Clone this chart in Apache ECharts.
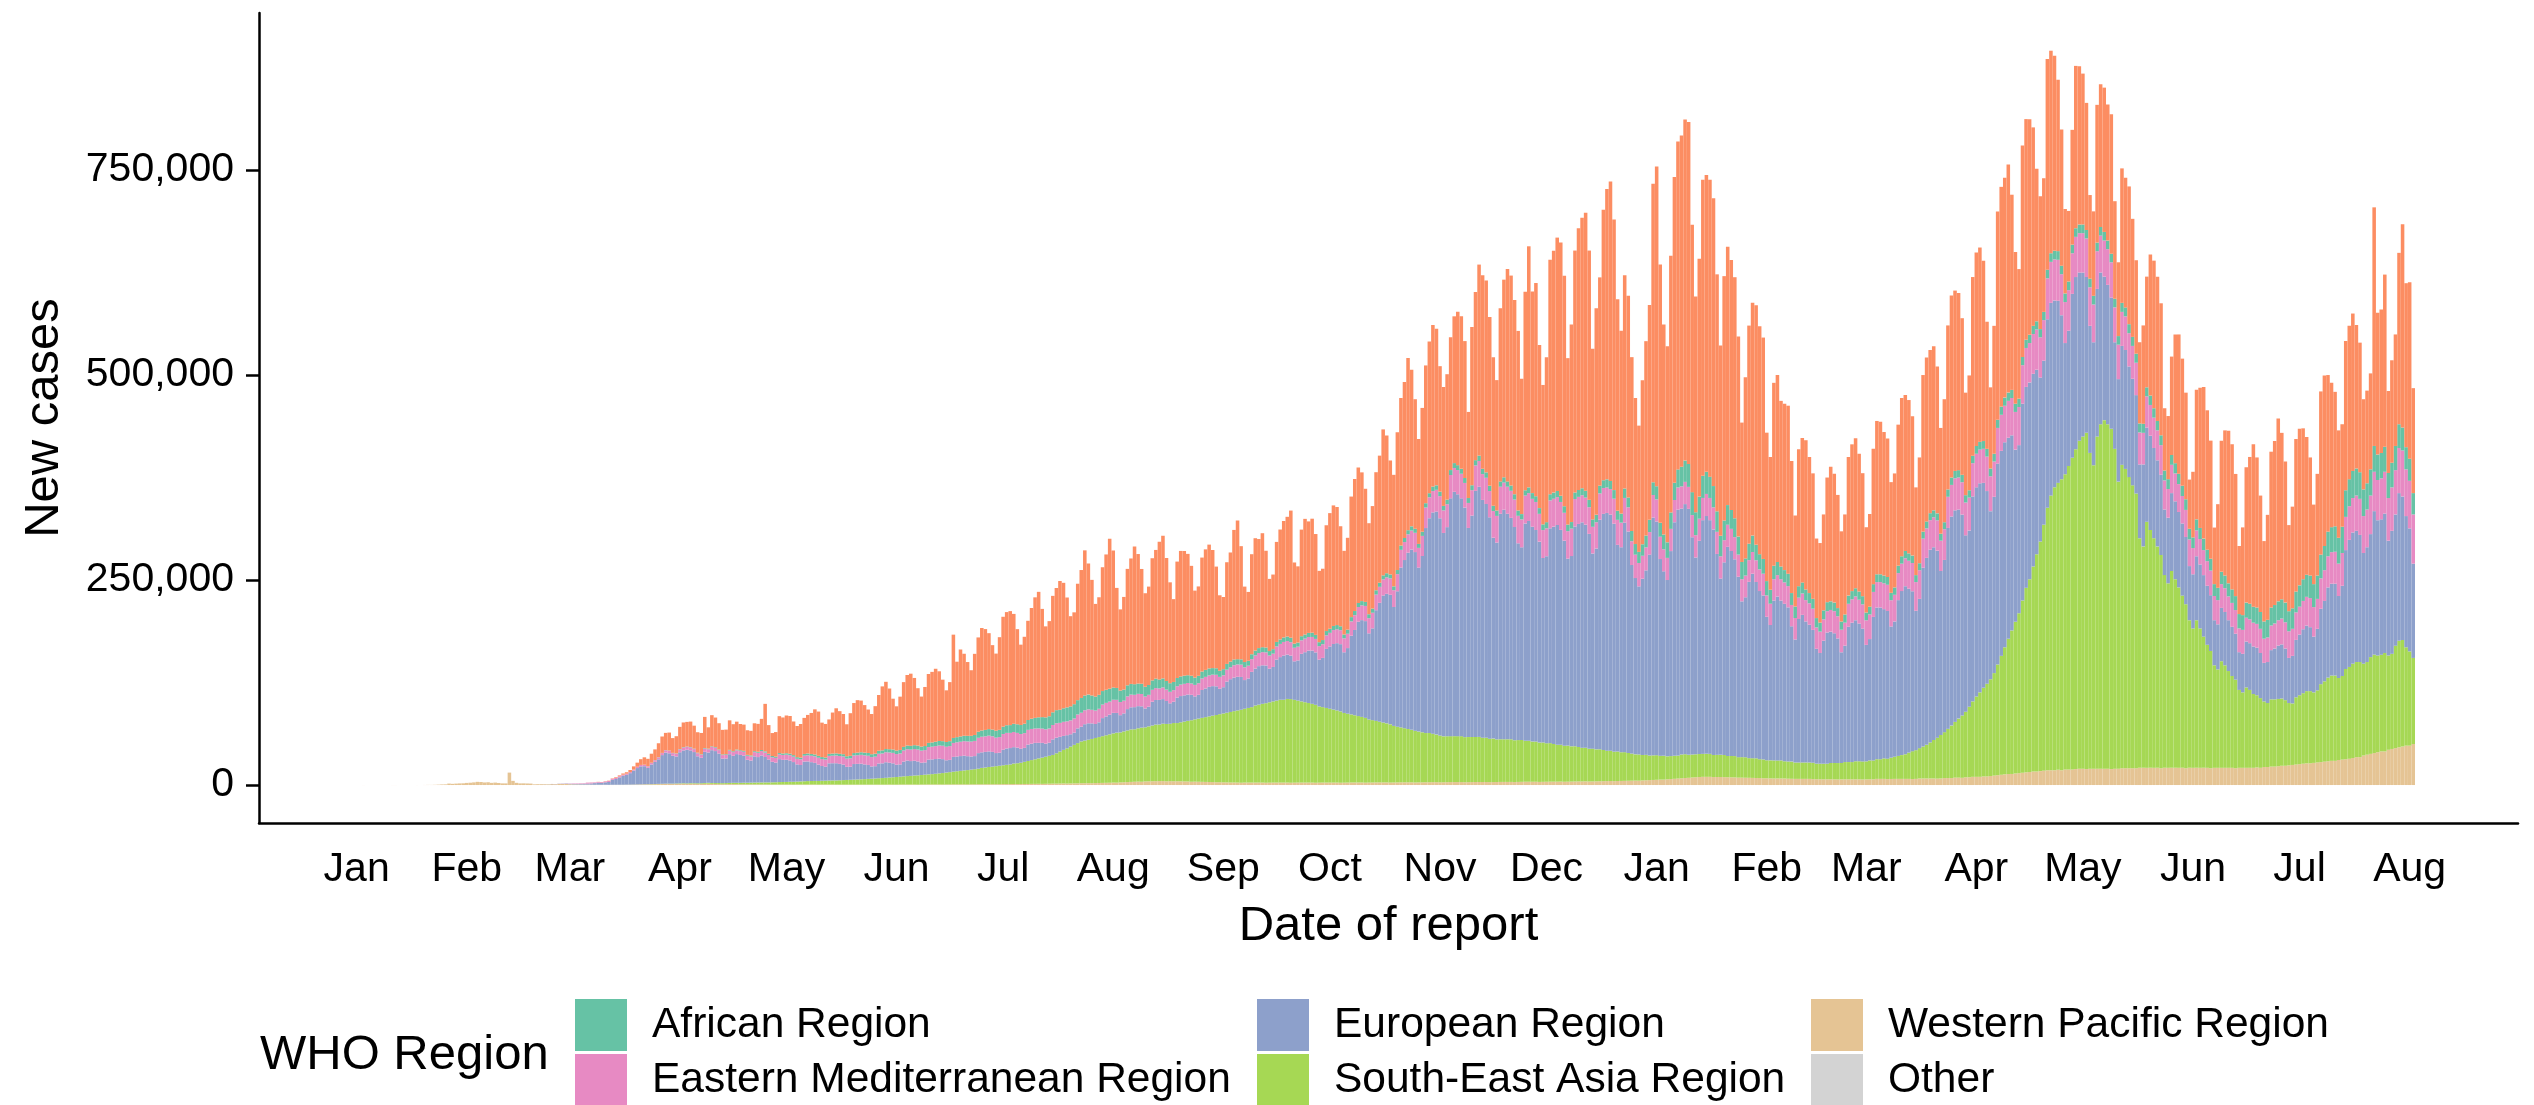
<!DOCTYPE html>
<html>
<head>
<meta charset="UTF-8">
<title>New cases by WHO Region</title>
<script src="https://cdn.jsdelivr.net/npm/echarts@6/dist/echarts.min.js"></script>
<style>
  html, body { margin: 0; padding: 0; background: #fff; }
  #chart { width: 2534px; height: 1105px; }
</style>
</head>
<body>
<div id="chart"></div>
<script>
// daily new cases by date of report, in thousands
// one row = one week, Fri..Thu, first day 2020-01-03, last day 2021-08-02
var startDate = '2020-01-03';

var americas = [
  0,0,0,0,0,0,0,
  0,0,0,0,0,0,0,
  0,0,0,0,0,0,0,
  0,0,0,0,0,0,0,
  0,0,0,0,0,0,0,
  0,0,0,0,0,0,0,
  0,0,0,0,0,0,0,
  0,0,0,0,0,0,0.01,
  0.01,0.01,0.02,0.02,0.03,0.04,0.05,
  0.05,0.1,0.1,0.2,0.2,0.3,0.4,
  0.5,0.8,1,1.5,1.8,2.5,4,
  5,7,9,9,11,13,17,
  20,21,22,18,21,27,30,
  30,31,28,25,26,38,26,
  38,36,32,30,30,36,33,
  34,32,32,30,30,34,34,
  38,58,35,28,30,45,44,
  46,46,41,38,41,44,47,
  50,55,54,42,41,42,50,
  55,52,49,39,52,61,64,
  63,58,53,49,58,68,78,
  82,74,62,54,65,79,86,
  88,82,70,61,72,84,86,
  89,85,75,63,72,126,92,
  106,100,90,80,99,115,125,
  123,117,103,94,113,134,138,
  139,134,116,98,106,121,135,
  147,153,132,111,116,142,149,
  157,153,134,110,112,142,156,
  177,160,141,113,119,151,165,
  183,167,122,99,113,142,153,
  168,158,140,114,120,149,157,
  168,174,150,123,101,142,153,
  152,148,134,106,109,139,147,
  151,144,124,92,88,124,133,
  158,169,138,92,84,122,137,
  133,139,118,88,91,122,134,
  142,146,155,99,93,130,141,
  136,139,123,87,87,129,141,
  147,144,122,102,112,147,161,
  165,157,138,111,125,144,155,
  178,168,139,136,168,180,190,
  210,191,158,128,151,168,185,
  197,191,153,145,153,162,179,
  187,186,167,105,193,205,233,
  236,234,206,181,159,211,241,
  259,256,237,219,165,242,294,
  246,260,199,170,201,286,295,
  309,309,281,203,241,295,319,
  330,339,304,208,252,254,330,
  354,365,330,258,223,260,246,
  212,178,154,200,237,262,364,
  390,315,256,239,313,373,400,
  404,416,417,326,263,290,361,
  362,362,351,289,232,298,315,
  305,294,244,170,221,266,284,
  292,278,270,181,162,223,228,
  202,203,205,161,111,167,176,
  182,166,153,97,97,117,152,
  164,157,138,110,122,169,179,
  183,168,150,104,113,165,187,
  186,175,169,135,139,172,193,
  190,187,170,107,129,191,200,
  199,200,179,129,150,200,222,
  220,216,191,125,140,218,236,
  237,220,155,99,156,254,268,
  268,278,238,185,158,258,269,
  263,242,186,162,163,257,247,
  238,209,166,103,86,140,198,
  193,184,155,102,103,168,174,
  176,166,170,119,90,164,158,
  168,144,114,99,120,135,172,
  180,176,161,76,77,120,157,
  170,155,130,60,80,158,171,
  185,170,144,69,102,160,177,
  186,177,149,83,107,165,179,
  198,183,142,98,128,190,200,
  223,203,172,105,124,186,191,
  184,168,144,97,124,199,208,
  191,176,164,131,125,182,187,
  192,175,158,110,113,117,291,
  173,175,210,100,125,136,209,
  248,200,215,128
];

var european = [
  0,0,0,0,0,0,0,
  0,0,0,0,0,0,0,
  0,0,0,0,0,0,0,
  0,0,0,0,0,0,0,
  0,0,0,0,0,0,0,
  0,0,0,0,0,0,0,
  0,0,0,0,0,0,0,
  0,0.02,0.08,0.1,0.2,0.15,0.2,
  0.3,0.4,0.5,0.6,0.6,0.8,1,
  1.2,1.5,2,2.5,2.2,3,3.5,
  6,7,9,11,12,14,17,
  20,22,22,20,24,27,30,
  35,38,37,34,33,38,40,
  41,40,38,33,31,38,37,
  40,39,36,30,30,35,33,
  35,34,33,28,27,32,31,
  33,31,28,25,24,28,27,
  27,26,24,21,20,24,24,
  23,22,20,18,17,21,21,
  21,20,19,16,16,19,19,
  19,18,17,15,15,18,18,
  19,18,17,15,15,18,19,
  18,18,17,15,15,18,18,
  18,18,17,15,15,18,18,
  18,18,17,16,16,19,19,
  19,19,18,16,16,19,20,
  20,20,19,17,17,20,20,
  20,19,18,16,16,19,19,
  18,17,16,15,15,18,18,
  20,20,19,17,18,22,23,
  24,25,24,21,22,26,27,
  27,27,26,23,24,29,30,
  30,30,28,25,26,31,32,
  32,32,31,28,29,34,35,
  36,36,35,31,32,38,40,
  41,41,40,35,36,43,45,
  47,47,46,41,42,50,52,
  54,54,53,47,49,58,61,
  64,65,64,57,60,72,76,
  80,82,82,74,80,96,104,
  115,118,118,105,112,135,145,
  155,158,158,145,165,195,205,
  215,220,218,200,215,250,262,
  270,272,265,248,255,290,298,
  295,290,280,255,270,300,305,
  290,285,270,245,240,275,280,
  275,270,260,240,235,265,268,
  262,258,245,225,228,262,265,
  268,262,250,228,232,268,272,
  275,272,262,238,245,280,288,
  290,288,278,252,250,280,270,
  230,215,205,215,225,245,290,
  285,240,225,215,250,285,300,
  300,305,300,265,240,260,285,
  290,285,275,245,215,235,255,
  250,240,220,190,195,215,225,
  215,205,200,175,165,195,200,
  195,192,188,165,150,175,180,
  172,168,162,140,135,150,160,
  160,158,152,135,142,165,170,
  172,168,162,142,148,175,185,
  185,182,180,160,165,190,200,
  205,200,195,170,182,218,228,
  235,235,228,200,210,245,255,
  258,255,245,215,215,250,255,
  255,250,235,205,215,245,250,
  250,245,238,210,205,240,245,
  240,235,225,200,200,230,235,
  228,222,200,160,165,200,210,
  205,200,190,155,150,180,185,
  175,170,160,130,125,145,145,
  135,130,120,90,100,115,115,
  110,105,98,80,80,95,95,
  92,88,82,66,66,78,78,
  75,72,68,55,55,65,65,
  62,60,56,46,47,56,57,
  58,58,55,47,50,60,62,
  65,66,63,55,58,70,74,
  78,80,78,68,75,92,98,
  110,112,112,100,110,145,155,
  160,160,155,135,140,150,175,
  165,165,170,140,150,160,180,
  175,160,150,115
];

var southEastAsia = [
  0,0,0,0,0,0,0,
  0,0,0,0,0,0,0,
  0,0,0,0,0,0,0,
  0,0,0,0,0,0,0,
  0,0,0,0,0,0,0,
  0,0,0,0,0,0,0,
  0,0,0,0,0,0,0,
  0,0,0,0,0,0,0,
  0,0,0,0,0,0.01,0.01,
  0.01,0.01,0.02,0.02,0.02,0.03,0.03,
  0.02,0.04,0.05,0.06,0.08,0.1,0.1,
  0.1,0.1,0.15,0.2,0.2,0.25,0.3,
  0.3,0.35,0.4,0.5,0.55,0.6,0.7,
  0.7,0.8,0.8,0.9,0.9,1,1.1,
  1.1,1.2,1.3,1.3,1.4,1.5,1.6,
  1.7,1.8,1.9,2,2.1,2.2,2.3,
  2.4,2.5,2.6,2.7,2.8,3,3.1,
  3.2,3.4,3.5,3.6,3.8,4,4.2,
  4.3,4.4,4.5,4.6,4.7,4.9,5,
  5.1,5.3,5.5,5.7,5.9,6.1,6.3,
  6.5,6.7,7,7.2,7.5,7.8,8,
  8.3,8.6,9,9.3,9.6,10,10.3,
  10.6,11,11.3,11.6,12,12.3,12.6,
  13,13.5,14,14.5,15,15.5,16,
  16.5,17,17.5,18,18.5,19,20,
  20.5,21,21.5,22,22.5,23,23.5,
  24,25,25.5,26,27,28,29,
  30,31,32,33,34,35,37,
  39,41,43,45,47,49,51,
  52,53,54,55,56,57,58,
  59,60,61,61,62,63,64,
  64,65,66,66,67,68,69,
  69,70,70,70,71,71,72,
  73,74,75,76,77,78,79,
  80,81,82,83,84,85,86,
  87,88,89,90,91,92,94,
  95,96,97,98,99,100,101,
  101,102,102,101,100,99,98,
  97,96,95,93,92,91,90,
  89,88,87,85,84,83,82,
  81,80,79,77,76,75,74,
  73,72,71,69,68,67,66,
  65,64,63,62,61,60,60,
  59,58,57,56,56,56,56,
  56,56,55,55,55,55,55,
  54,54,53,53,52,52,52,
  52,52,51,51,51,50,50,
  49,49,48,48,47,47,46,
  45,45,44,44,43,43,42,
  41,41,40,40,39,39,38,
  37,37,36,36,35,35,34,
  33,32,32,31,31,30,30,
  30,29,29,28,28,28,28,
  29,29,28,28,28,28,28,
  28,28,27,27,27,27,26,
  26,26,25,25,25,24,24,
  24,23,23,22,22,22,22,
  22,21,21,21,20,20,20,
  20,20,20,19,19,19,19,
  20,20,20,20,21,21,21,
  22,22,22,22,23,23,24,
  24,25,25,26,27,28,29,
  30,32,34,35,37,39,41,
  44,47,50,53,56,60,64,
  68,72,76,80,86,92,98,
  103,108,113,118,125,135,145,
  155,165,175,185,195,210,225,
  235,250,265,280,300,320,335,
  345,350,355,360,370,380,390,
  400,405,410,385,370,405,420,
  425,420,415,390,350,370,365,
  355,345,335,280,270,300,290,
  280,270,260,235,225,240,230,
  220,210,200,180,170,180,170,
  160,150,143,125,120,130,125,
  118,112,108,95,92,98,95,
  90,88,85,80,78,82,82,
  82,82,80,76,75,82,84,
  86,88,88,86,88,95,98,
  102,104,104,100,102,110,112,
  115,116,116,112,113,118,120,
  118,118,120,115,116,125,130,
  130,120,115,105
];

var easternMediterranean = [
  0,0,0,0,0,0,0,
  0,0,0,0,0,0,0,
  0,0,0,0,0,0,0,
  0,0,0,0,0,0,0,
  0,0,0,0,0,0,0,
  0,0,0,0,0,0,0,
  0,0,0,0,0,0,0,
  0,0.01,0.02,0.03,0.04,0.05,0.1,
  0.15,0.2,0.3,0.5,0.6,0.6,0.6,
  1.2,1.1,0.8,0.9,0.9,1,1.2,
  1.3,1.4,1.4,1.2,1.3,1.3,1.1,
  1.5,1.6,1.7,1.8,1.9,2,2.3,
  2.5,2.7,3,3.2,3.3,3.5,3.6,
  3.5,3.6,3.6,3.7,3.7,3.9,4,
  4,4.1,4.2,4.2,4.3,4.4,4.5,
  4.6,4.7,4.8,4.9,5,5.1,5.2,
  5.3,5.4,5.5,5.6,5.7,5.8,6,
  6.2,6.4,6.6,6.8,7,7.2,7.5,
  7.8,8,8.3,8.5,8.7,9,9.2,
  9.4,9.6,9.8,10,10.2,10.4,10.6,
  10.8,11,11.2,11.4,11.6,11.8,12,
  12.2,12.5,12.7,13,13.3,13.5,13.8,
  14,14.3,14.5,14.8,15,15.3,15.5,
  15.8,16,16.3,16.5,16.8,17,17.3,
  17.5,17.7,18,18.2,18.5,18.7,19,
  19,19.2,19,18.8,19,19.1,19,
  18.5,18.5,18,18,18,18,18,
  17.5,17.6,17.4,17.5,17.3,17.5,17.6,
  17,17.2,16.9,17,17.1,16.9,17,
  17,17,16.5,16.5,16.5,16.5,16.5,
  16,16,16,16,15.5,15.5,15.5,
  15,15,15,14.5,14.5,14.5,14.5,
  14,14.2,13.9,14,14.1,13.9,14,
  14,14.1,13.8,14,14.2,14,14.1,
  14,14,14,14.5,14.5,14.5,14.5,
  15,15,15,15.5,15.5,15.5,16,
  16,16.1,15.9,16,16.2,16,16.1,
  16.5,16.6,16.4,16.5,16.7,16.5,16.6,
  16.5,16.6,16.4,16.5,16.7,16.5,16.6,
  17,17,17,17,17.5,17.5,18,
  18,18,18.5,18.5,19,19,19.5,
  19.5,20,20,20.5,21,21.5,22,
  22.5,23,23.5,24,24.5,25,25.5,
  26,26.5,27,27.5,28,28.5,29,
  29.5,30,30,30.5,31,31,31.5,
  31.5,32,32,32.5,32.5,33,33,
  33,33,33.5,33.5,34,34,34,
  34,34.2,33.9,34,34.1,34,34,
  34,34,34,33.5,33.5,33.5,33,
  33,33,32.5,32.5,32,32,31.5,
  31,31,30.5,30.5,30,30,29.5,
  29,28.5,28.5,28,28,27.5,27.5,
  27,27.2,26.9,27,27.1,27,27,
  27,27.1,26.8,27,27.2,27,27.1,
  27,27.1,26.9,27,27.1,27,26.9,
  27,27,27,27,26.5,26.5,26.5,
  26.5,26.5,26.5,26,26,26,26,
  26,26.1,25.9,26,26.2,26,26.1,
  26,26.1,25.9,26,26.1,26,26,
  26.5,27,27,27.5,28,28,28.5,
  29,29,29.5,30,30,30.5,31,
  31,31.5,32,32,32.5,33,33.5,
  34,34,34.5,35,35,35.5,36,
  36,36.5,37,37,37.5,38,38.5,
  39,39,39.5,40,40,40.5,41,
  41,41.5,42,42.5,43,43.5,44,
  44.5,45,45.5,46,46.5,47,47.5,
  48,48.5,49,49,49.5,50,50,
  50,50,50,50,49.5,49.5,49,
  48,48,47,47,46,46,45,
  44,43.5,43,42.5,42,41.5,41,
  40.5,40,39.5,39,38.5,38,37.5,
  37,36.5,36,35.5,35,34.5,34,
  34,33.5,33,32.5,32,31.5,31,
  30.5,30,30,29.5,29.5,29,29,
  29,29.1,28.9,29,29.2,29,29.1,
  29,29,29.5,29.5,30,30,30.5,
  31,31.5,32,32.5,33,33.5,34,
  34.5,35,35.5,36,36.5,37,37.5,
  38,38.5,39,39.5,40,40.5,41,
  42,43,44,45,46,47,48,
  49,50,51,52,53,54,55,
  56,57,58,60
];

var african = [
  0,0,0,0,0,0,0,
  0,0,0,0,0,0,0,
  0,0,0,0,0,0,0,
  0,0,0,0,0,0,0,
  0,0,0,0,0,0,0,
  0,0,0,0,0,0,0,
  0,0,0,0,0,0,0,
  0,0,0,0,0,0,0,
  0,0,0,0,0,0,0,
  0,0,0,0.01,0.01,0.01,0.01,
  0.02,0.03,0.03,0.04,0.05,0.06,0.08,
  0.1,0.12,0.15,0.18,0.2,0.22,0.25,
  0.2,0.25,0.3,0.35,0.4,0.45,0.5,
  0.5,0.5,0.6,0.6,0.6,0.7,0.7,
  0.7,0.8,0.8,0.8,0.9,0.9,1,
  1,1,1.1,1.1,1.2,1.2,1.3,
  1.3,1.4,1.4,1.5,1.5,1.6,1.7,
  1.8,1.8,1.9,2,2,2.1,2.2,
  2.2,2.3,2.3,2.4,2.5,2.5,2.6,
  2.6,2.7,2.8,2.9,3,3,3.1,
  3.2,3.3,3.4,3.5,3.6,3.7,3.8,
  3.9,4,4.1,4.2,4.3,4.4,4.5,
  4.6,4.7,4.8,4.9,5,5.1,5.2,
  5.3,5.5,5.6,5.8,6,6.1,6.3,
  6.5,6.6,6.8,7,7.2,7.4,7.6,
  7.8,8,8.2,8.5,8.8,9,9.3,
  9.5,10,10.5,11,11.5,12,12.5,
  13,13.5,14,14.5,15,15.5,16,
  16,16.5,17,17,17.5,17.5,18,
  18,18,17.5,17,17,16.5,16,
  15.5,15,14.5,14,13.5,13.5,13,
  13,12.5,12.5,12,12,11.5,11.5,
  11,11,10.5,10.5,10,10,10,
  10,9.5,9.5,9,9,8.5,8.5,
  8.5,8,8,7.5,7.5,7,7,
  7,6.5,6.5,6.5,6,6,6,
  6,6,6,5.5,5.5,5.5,5.5,
  5.5,5.5,5.5,5,5,5,5,
  5,5.2,4.9,4.8,5.1,5.3,5,
  5,5.1,4.8,4.7,5,5.2,5.1,
  5,5.2,4.9,4.8,5.1,5.3,5,
  5,5.1,4.8,4.7,5,5.2,5.1,
  5,5.2,4.9,4.8,5.1,5.3,5,
  5.5,5.5,5.5,5.5,5.5,6,6,
  6,6,6,6,6,6.5,6.5,
  6.5,6.6,6.4,6.5,6.6,6.5,6.5,
  6.5,6.5,6.5,6.5,6.5,6.5,7,
  7,7,7,7,7.5,7.5,7.5,
  7.5,7.5,8,8,8,8,8.5,
  8.5,8.5,9,9,9,9.5,9.5,
  10,10,10.5,11,11,11.5,12,
  12.5,13,13.5,14,14.5,15,15.5,
  16,17,18,19,20,21,22,
  24,26,28,28,28,27,27,
  27,26,26,25,25,24,24,
  23,23,22,21,21,20,20,
  19,18.5,18,17.5,17,16.5,16,
  15.5,15,15,14.5,14,14,13.5,
  13,12.5,12,11.5,11,11,11,
  10.5,10.5,10,10,10,10,10,
  10,10,10,9.5,9.5,9.5,9.5,
  9.5,9.5,9.5,9,9,9,9,
  9,9,9,8.5,8.5,8.5,8.5,
  8.5,8.5,8.5,8.5,8.5,9,9,
  9,9,9,9,9,9,9.5,
  9.5,9.5,9.5,9.5,9.5,10,10,
  10,10.1,9.9,10,10.2,10,10.1,
  10,10,10,10,10,10.5,10.5,
  10.5,10.6,10.4,10.5,10.6,10.5,10.5,
  10.5,10.6,10.4,10.5,10.6,10.5,10.5,
  10.5,10.5,10.5,10.5,10.5,11,11,
  11,11,11,11,11,11,11.5,
  11.5,11.5,12,12,12,12,12.5,
  12.5,12.5,13,13,13,13.5,13.5,
  14,14,14.5,14.5,15,15,15.5,
  16,16.5,17,17.5,18,18.5,19,
  19.5,20,20.5,21,21.5,22,22.5,
  23,23.5,24,24.5,25,25.5,26,
  26.5,27,27.5,28,28.5,29,29.5,
  30,30.5,31,31.5,32,32.5,33,
  33,33,32.5,32.5,32,32,31.5,
  31,31,30.5,30.5,30,29.5,29,
  28,27,27,26
];

var westernPacific = [
  0.04,0,0.01,0.01,0,0,0,
  0,0.04,0.05,0.01,0.01,0,0.01,
  0.02,0.04,0.02,0.08,0.15,0.13,0.26,
  0.45,0.69,0.77,1.77,1.46,1.74,1.98,
  2.1,2.59,2.83,3.24,3.89,3.7,3.15,
  3.39,2.66,2.98,2.49,2.02,2,15.15,
  5.09,2.64,2.01,2.05,1.89,1.75,0.82,
  1,1,0.9,0.8,1.1,0.9,1.4,
  1.3,1.4,1,0.8,0.7,0.6,0.5,
  0.5,0.4,0.3,0.3,0.3,0.3,0.2,
  0.3,0.3,0.3,0.3,0.4,0.4,0.5,
  0.6,0.7,0.8,0.8,0.9,1,1.1,
  1.2,1.3,1.3,1.2,1.3,1.4,1.5,
  1.3,1.5,1.4,1.2,1.3,1.5,1.6,
  1.4,1.2,1.1,1,1,1.1,1.1,
  1,0.9,0.9,0.8,0.8,0.8,0.8,
  0.7,0.7,0.6,0.6,0.6,0.6,0.6,
  0.6,0.6,0.5,0.6,0.6,0.6,0.6,
  0.6,0.6,0.5,0.6,0.6,0.6,0.6,
  0.5,0.5,0.5,0.5,0.5,0.5,0.5,
  0.5,0.5,0.5,0.5,0.5,0.5,0.5,
  0.5,0.6,0.5,0.5,0.6,0.6,0.6,
  0.6,0.6,0.5,0.6,0.6,0.7,0.7,
  0.7,0.7,0.6,0.7,0.7,0.8,0.8,
  0.8,0.8,0.7,0.8,0.8,0.9,0.9,
  0.9,1,0.9,1,1,1.1,1.1,
  1.1,1.2,1.1,1.2,1.3,1.3,1.4,
  1.4,1.5,1.4,1.5,1.6,1.7,1.7,
  1.8,1.9,1.8,1.9,2,2.1,2.2,
  2.2,2.3,2.2,2.4,2.5,2.6,2.7,
  2.8,3,2.9,3.2,3.4,3.6,3.8,
  4,4.2,4,4.4,4.5,4.6,4.7,
  4.8,4.8,4.5,4.7,4.6,4.6,4.5,
  4.4,4.3,4,4.1,4,3.9,3.8,
  3.7,3.6,3.4,3.4,3.3,3.2,3.1,
  3.1,3,2.8,3,3,3,3,
  3,3,2.8,2.9,3,3,3,
  3,3,2.8,2.9,3,3,3,
  3,3,2.8,2.9,3,3,3,
  3,3,2.8,2.9,3,3.1,3.1,
  3.1,3.1,2.9,3,3.1,3.2,3.2,
  3.2,3.2,3,3.1,3.2,3.3,3.3,
  3.3,3.3,3.1,3.2,3.3,3.4,3.4,
  3.5,3.5,3.3,3.4,3.5,3.6,3.6,
  3.6,3.6,3.4,3.5,3.6,3.7,3.7,
  3.7,3.7,3.5,3.6,3.7,3.8,3.8,
  3.8,3.8,3.6,3.8,3.9,4,4,
  4,4,3.8,3.9,4,4.1,4.1,
  4.1,4.2,4,4.1,4.2,4.3,4.4,
  4.4,4.5,4.3,4.4,4.5,4.6,4.7,
  4.8,4.9,4.7,4.9,5,5.1,5.2,
  5.3,5.4,5.3,5.6,5.8,6,6.2,
  6.4,6.6,6.6,7,7.3,7.6,7.9,
  8.2,8.6,8.8,9.2,9.5,9.8,10,
  10,10,9.7,9.8,9.8,9.6,9.5,
  9.4,9.3,9,9,8.9,8.8,8.7,
  8.6,8.5,8.2,8.2,8.1,8,8,
  8,8,7.7,7.6,7.5,7.5,7.5,
  7.5,7.5,7.2,7.1,7,7,7,
  7,7,6.8,6.9,7,7,7,
  7,7,6.8,6.9,7,7,7.5,
  7.5,7.5,7.2,7.4,7.5,7.5,7.5,
  7.5,7.5,7.3,7.5,8,8,8,
  8,8,7.8,8,8.5,8.5,8.5,
  9,9,8.8,9.5,9.5,10,10,
  10,10.5,10.5,11,11.5,12,12.5,
  13,13.5,13.5,14,14.5,15,15.5,
  16,16.5,16.5,17,17.5,18,18,
  18,18.5,18,19,19,19,19.5,
  20,20,19.5,20,20,20,20,
  20,20,19.5,20,20,20.5,20.5,
  20.5,20.5,20.5,21,21,21,21,
  21,21,20.5,21,21,21,21,
  21,21,20.5,21,21,21,21,
  21,21,20.5,21,21,21,21,
  21,21,20.5,21,21,21,21,
  21,21.5,21,22,22,22.5,22.5,
  23,23.5,23.5,24,24.5,25,25.5,
  26,26.5,26.5,27,27.5,28,28.5,
  29,29.5,29.5,30.5,31,31.5,32,
  33,34,34,36,37,38,39,
  40,41,41,43,44,45,46,
  47,48,48,50
];

// international conveyances, only the days with reports
var otherByDate = {
  '2020-02-05': 0.01, '2020-02-06': 0.01, '2020-02-07': 0.041, '2020-02-08': 0.003,
  '2020-02-09': 0.006, '2020-02-10': 0.065, '2020-02-12': 0.039, '2020-02-13': 0.044,
  '2020-02-15': 0.067, '2020-02-16': 0.07, '2020-02-17': 0.099, '2020-02-18': 0.088,
  '2020-02-19': 0.079, '2020-02-20': 0.013, '2020-02-22': 0.057, '2020-02-24': 0.057,
  '2020-03-01': 0.014
};

var monthNames = ['Jan','Feb','Mar','Apr','May','Jun','Jul','Aug','Sep','Oct','Nov','Dec'];
var yTicks = [0, 250, 500, 750];
var padDays = 29; // empty days on each side, like ggplot's axis expansion

var font = 'Liberation Sans, Arial, Helvetica, sans-serif';
var DAY = 86400000;
var start = Date.parse(startDate + 'T00:00:00Z');
var nDays = americas.length;

var dates = [];
for (var k = -padDays; k < nDays + padDays; k++) {
  dates.push(new Date(start + k * DAY).toISOString().slice(0, 10));
}

var other = [];
for (var j = 0; j < nDays; j++) {
  other.push(otherByDate[dates[j + padDays]] || 0);
}

function pad(values) {
  var out = [];
  for (var i = 0; i < padDays; i++) out.push('-');
  for (var i = 0; i < nDays; i++) out.push(values[i] == null ? '-' : values[i]);
  for (var i = 0; i < padDays; i++) out.push('-');
  return out;
}

function isMonthStart(index, value) {
  return value.slice(8) === '01';
}

// bottom of the stack first
var regions = [
  { name: 'Western Pacific Region', color: '#E5C494', values: westernPacific },
  { name: 'Other', color: '#D3D3D3', values: other },
  { name: 'South-East Asia Region', color: '#A6D854', values: southEastAsia },
  { name: 'European Region', color: '#8DA0CB', values: european },
  { name: 'Eastern Mediterranean Region', color: '#E78AC3', values: easternMediterranean },
  { name: 'African Region', color: '#66C2A5', values: african },
  { name: 'Region of the Americas', color: '#FC8D62', values: americas }
];

var series = regions.map(function (r) {
  return {
    name: r.name,
    type: 'bar',
    stack: 'cases',
    barCategoryGap: '0%',
    data: pad(r.values),
    itemStyle: { color: r.color },
    emphasis: { disabled: true }
  };
});

// one legend per column, two keys stacked in each
function legendColumn(left, names) {
  return {
    orient: 'vertical',
    left: left,
    top: 999,
    height: 140,
    data: names,
    icon: 'rect',
    itemWidth: 52,
    itemHeight: 52,
    itemGap: 3,
    padding: 0,
    selectedMode: false,
    textStyle: { fontSize: 42.5, color: '#000', fontFamily: font, padding: [0, 0, 0, 20] }
  };
}

var chart = echarts.init(document.getElementById('chart'));
chart.setOption({
  animation: false,
  backgroundColor: '#fff',
  textStyle: { fontFamily: font },
  grid: { left: 259, right: 16, top: 13, bottom: 282 },
  xAxis: {
    type: 'category',
    data: dates,
    boundaryGap: true,
    axisLine: { onZero: false, lineStyle: { color: '#000', width: 2.5 } },
    axisTick: { alignWithLabel: true, interval: isMonthStart, length: 13, lineStyle: { color: '#000', width: 2.5 } },
    axisLabel: {
      interval: isMonthStart,
      formatter: function (v) { return monthNames[+v.slice(5, 7) - 1]; },
      fontSize: 41, color: '#000', margin: 26, fontFamily: font
    },
    name: 'Date of report',
    nameLocation: 'middle',
    nameGap: 79,
    nameTextStyle: { fontSize: 49, color: '#000', fontFamily: font, lineHeight: 49 }
  },
  yAxis: {
    type: 'value',
    min: -46.3,
    max: 941.5,
    splitLine: { show: false },
    axisLine: { show: true, lineStyle: { color: '#000', width: 2.5 } },
    axisTick: { show: true, length: 13, customValues: yTicks, lineStyle: { color: '#000', width: 2.5 } },
    axisLabel: {
      customValues: yTicks,
      formatter: function (v) { return String(Math.round(v * 1000)).replace(/\B(?=(\d{3})+(?!\d))/g, ','); },
      fontSize: 41, color: '#000', margin: 25, fontFamily: font
    },
    name: 'New cases',
    nameLocation: 'middle',
    nameGap: 190,
    nameRotate: 90,
    nameTextStyle: { fontSize: 49, color: '#000', fontFamily: font }
  },
  legend: [
    legendColumn(575, ['African Region', 'Eastern Mediterranean Region']),
    legendColumn(1257, ['European Region', 'South-East Asia Region']),
    legendColumn(1811, ['Western Pacific Region', 'Other'])
  ],
  graphic: [{
    type: 'text',
    x: 260,
    y: 1055,
    style: { text: 'WHO Region', fontSize: 49, fontFamily: font, fill: '#000', verticalAlign: 'middle', textAlign: 'left' }
  }],
  series: series
});
</script>
</body>
</html>
